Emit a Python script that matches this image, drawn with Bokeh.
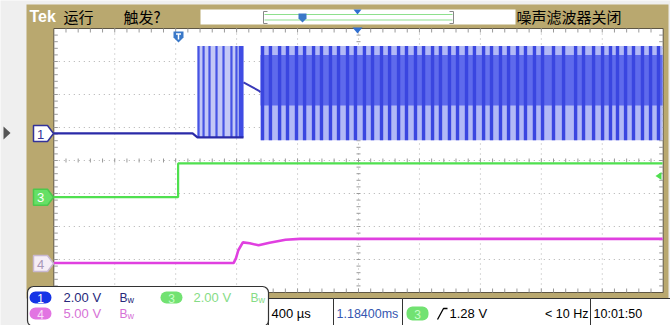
from bokeh.plotting import figure
from bokeh.models import Range1d, Label
from bokeh.embed import file_html
from bokeh.resources import INLINE

# ---------------- scope settings ----------------
time_per_div_ms = 0.4
horiz_position_ms = 1.184
ch1_volts_per_div = 2.0
ch3_volts_per_div = 2.0
ch4_volts_per_div = 5.0
ch1_offset_div = 0.82
ch3_offset_div = -1.11
ch4_offset_div = -3.12
trigger_level_v = 1.28

# ---------------- waveform data: time in ms after trigger, volts ----------------
ch1_base_t = [-0.816, 0.095, 0.127, 0.429]
ch1_base_v = [0.0, 0.0, -0.24, -0.24]
ch1_decay_t = [0.429, 0.528, 0.541]
ch1_decay_v = [3.1, 2.6, 2.5]
burst1_t = [0.127, 0.429]
burst1_dense_t = [0.398, 0.429]
burst1_stripes_t = [0.134, 0.167, 0.206, 0.252, 0.298, 0.350, 0.383]
burst1_floor_v = -0.24
burst2_t = [0.541, 3.180]
burst2_stripes_t = [0.554, 0.606, 0.666, 0.718, 0.777, 0.830, 0.889, 0.941, 1.000,
                    1.053, 1.112, 1.164, 1.223, 1.276, 1.335, 1.388, 1.447, 1.499,
                    1.558, 1.611, 1.670, 1.722, 1.781, 1.834, 1.893, 1.945, 2.005,
                    2.057, 2.116, 2.169, 2.228, 2.280, 2.339, 2.392, 2.464, 2.530,
                    2.609, 2.661, 2.727, 2.786, 2.838, 2.884, 2.937, 2.989, 3.048,
                    3.101, 3.153]
burst_peak_v = [5.3, -0.42]   # envelope top / bottom
burst_core_v = [4.75, 1.7]    # dense part of the envelope

ch3_t = [-0.816, 0.0, 0.0, 3.180]
ch3_v = [0.0, 0.0, 2.04, 2.04]

ch4_t = [-0.816, 0.365, 0.380, 0.395, 0.425, 0.470, 0.528, 0.600, 0.705, 0.800, 3.180]
ch4_v = [0.08, 0.08, 0.8, 2.0, 3.2, 3.05, 2.75, 3.15, 3.6, 3.72, 3.72]

# ---------------- screen layout ----------------
PX_L, PX_R, PY_T, PY_B = 53.3, 662.7, 28.0, 292.0
DX = (PX_R - PX_L) / 10.0
DY = (PY_B - PY_T) / 8.0
t_left = horiz_position_ms - 5 * time_per_div_ms


def X(px):
    return t_left + (px - PX_L) / DX * time_per_div_ms


def Y(py):
    return 4.0 - (py - PY_T) / DY


def GX(div):
    return t_left + div * time_per_div_ms


def to_div(volts, vpd, off):
    return [v / vpd + off for v in volts]


TAN = "#b9a86f"
FONT = "Liberation Sans"
CJK = "Noto Sans CJK SC"

p = figure(width=670, height=325, x_range=Range1d(X(0), X(670)), y_range=Range1d(Y(325), Y(0)),
           output_backend="svg", toolbar_location=None, min_border=0,
           x_axis_location=None, y_axis_location=None,
           background_fill_color="#efefef", border_fill_color="#efefef", outline_line_color=None)
p.xgrid.visible = False
p.ygrid.visible = False


def box(px0, py0, px1, py1, **kw):
    kw.setdefault("line_color", None)
    return p.quad(left=[X(px0)], right=[X(px1)], top=[Y(py0)], bottom=[Y(py1)], **kw)


def label(px, py, text, color="black", size=13, font=FONT, align="left", style="normal"):
    p.add_layout(Label(x=X(px), y=Y(py), text=text, text_color=color, text_font=font,
                       text_font_size=f"{size}px", text_align=align, text_baseline="middle",
                       text_font_style=style))


def patch(pts, **kw):
    p.patch([X(a) for a, b in pts], [Y(b) for a, b in pts], **kw)


# frame
box(26, 4, 668, 298, fill_color=TAN)
box(PX_L, PY_T, PX_R, PY_B, fill_color="white", line_color="#5e5644", line_width=1)

# left side arrow
patch([(3, 126), (10, 132.5), (3, 139)], fill_color="#555555", line_color=None)

# graticule
gx0, gx1, gy0, gy1 = [], [], [], []
for i in range(1, 10):
    gx0.append(GX(i)); gx1.append(GX(i)); gy0.append(Y(PY_T)); gy1.append(Y(PY_B))
for j in range(-3, 4):
    gx0.append(GX(0)); gx1.append(GX(10)); gy0.append(j); gy1.append(j)
p.segment(gx0, gy0, gx1, gy1, line_color="#b0b0b0", line_width=1, line_dash="1 4")

tx0, tx1, ty0, ty1 = [], [], [], []
tk = 4.0
for k in range(1, 50):
    xx = GX(k / 5.0)
    for (a, b) in [(PY_T, PY_T + tk), (PY_B - tk, PY_B), (160 - 2, 160 + 2)]:
        tx0.append(xx); tx1.append(xx); ty0.append(Y(a)); ty1.append(Y(b))
for k in range(1, 40):
    yy = -4 + k / 5.0
    for (a, b) in [(PX_L, PX_L + tk), (PX_R - tk, PX_R), (358 - 2, 358 + 2)]:
        tx0.append(X(a)); tx1.append(X(b)); ty0.append(yy); ty1.append(yy)
p.segment(tx0, ty0, tx1, ty1, line_color="#9a9a9a", line_width=1)

# ---------------- channel 3 (green) ----------------
p.line(ch3_t, to_div(ch3_v, ch3_volts_per_div, ch3_offset_div), line_color="#4fe04f", line_width=2.2)

# ---------------- channel 4 (magenta) ----------------
p.line(ch4_t, to_div(ch4_v, ch4_volts_per_div, ch4_offset_div), line_color="#e040e0", line_width=2.6)

# ---------------- channel 1 (blue) ----------------
c1 = lambda v: to_div(v, ch1_volts_per_div, ch1_offset_div)
top_d, bot_d = c1(burst_peak_v)
core_top_d, core_bot_d = c1(burst_core_v)
floor_d = c1([burst1_floor_v])[0]

# burst 1
p.quad(left=[burst1_t[0]], right=[burst1_t[1]], top=[top_d], bottom=[floor_d],
       fill_color="#c3c8f6", line_color=None)
p.segment(burst1_stripes_t, [floor_d] * len(burst1_stripes_t), burst1_stripes_t,
          [top_d] * len(burst1_stripes_t), line_color="#4653e4", line_width=2.2)
p.quad(left=[burst1_dense_t[0]], right=[burst1_dense_t[1]], top=[top_d], bottom=[floor_d],
       fill_color="#3f4ce4", line_color=None)

# burst 2
p.quad(left=[burst2_t[0]], right=[burst2_t[1]], top=[top_d], bottom=[bot_d],
       fill_color="#b2b9f6", line_color=None)
p.quad(left=[burst2_t[0]], right=[burst2_t[1]], top=[core_top_d], bottom=[core_bot_d],
       fill_color="#5e6aec", line_color=None)
p.segment(burst2_stripes_t, [bot_d] * len(burst2_stripes_t), burst2_stripes_t,
          [top_d] * len(burst2_stripes_t), line_color="#3a46e0", line_width=3.4)

p.line(ch1_base_t, c1(ch1_base_v), line_color="#2a2aa8", line_width=2.2)
p.line(ch1_decay_t, c1(ch1_decay_v), line_color="#3a3ab8", line_width=2)

# ---------------- channel markers ----------------
def ch_marker(pyc, fill, border, text, tcol):
    patch([(33, pyc - 8), (47, pyc - 8), (53, pyc), (47, pyc + 8), (33, pyc + 8)],
          fill_color=fill, line_color=border, line_width=1.5)
    label(40, pyc + 0.5, text, color=tcol, size=13, align="center")


ch_marker(133, "white", "#33339a", "1", "#33339a")
ch_marker(196.7, "#66e066", "#4cc84c", "3", "white")
ch_marker(263, "#f6eef6", "#c8b8d0", "4", "#a898b8")

# trigger level arrow (right)
trig_py = 196.7 - trigger_level_v / ch3_volts_per_div * DY
patch([(655, trig_py), (661, trig_py - 4), (661, trig_py + 4)], fill_color="#4fe04f", line_color=None)

# trigger position marker (top) and center marker
patch([(173, 31), (183, 31), (183, 37), (178, 42), (173, 37)], fill_color="#3a78c8", line_color=None)
p.segment([X(175.5), X(178)], [Y(33.5), Y(33.5)], [X(180.5), X(178)], [Y(33.5), Y(39)],
          line_color="white", line_width=1.5)
patch([(352, 27), (362, 27), (357, 33)], fill_color="#2f6fd0", line_color=None)

# ---------------- top bar ----------------
label(29, 16, "Tek", color="white", size=16, style="bold")
label(63, 16, "运行", size=15, font=CJK)
label(123, 16, "触发?", size=15, font=CJK)
label(516, 16, "噪声滤波器关闭", size=15, font=CJK)

box(200, 9, 515, 24, fill_color="white")
p.multi_line([[X(267), X(263), X(263), X(267)], [X(449), X(453), X(453), X(449)]],
             [[Y(11), Y(11), Y(23), Y(23)], [Y(11), Y(11), Y(23), Y(23)]],
             line_color="#888888", line_width=1)
p.segment([X(264), X(264)], [Y(14), Y(19.5)], [X(452), X(452)], [Y(14), Y(19.5)],
          line_color="#8ee08e", line_width=1.2)
patch([(298, 13), (306, 13), (306, 18), (302, 22), (298, 18)], fill_color="#3a78c8", line_color=None)
patch([(353, 9), (361, 9), (357, 14)], fill_color="#2f6fd0", line_color=None)

# ---------------- bottom status bar ----------------
box(268, 298, 333, 325, fill_color="white", line_color="#333333", line_width=1)
box(333, 298, 402, 325, fill_color="white", line_color="#333333", line_width=1)
box(402, 298, 590, 325, fill_color="white", line_color="#333333", line_width=1)
box(590, 298, 672, 325, fill_color="white", line_color="#333333", line_width=1)
box(27, 286, 268, 326, fill_color="white", line_color="#333333", line_width=1.2, border_radius=6)


def pill(px0, py0, px1, py1, fill, text, tcol="white"):
    box(px0, py0, px1, py1, fill_color=fill, border_radius=6)
    label((px0 + px1) / 2, (py0 + py1) / 2 + 0.5, text, color=tcol, size=12, align="center")


def bw(px, py, color):
    label(px, py, "B", color=color, size=12)
    label(px + 8, py + 2, "w", color=color, size=9)


pill(29, 291, 51, 303, "#1534e6", "1")
label(63, 297, "2.00 V", color="#26287a", size=13)
bw(119, 297, "#26287a")
pill(160, 291, 182, 303, "#72e272", "3", "#c8ffc8")
label(193, 297, "2.00 V", color="#86dc86", size=13)
bw(250, 297, "#86dc86")
pill(29, 307, 51, 319, "#e274e2", "4", "#f8e0f8")
label(63, 313, "5.00 V", color="#d672d6", size=13)
bw(119, 313, "#d672d6")

label(271, 313, "400 µs", size=13)
label(336, 313, "1.18400ms", color="#3556b0", size=12.5)
pill(406, 306, 428, 320, "#72e272", "3", "#c8ffc8")
p.line([X(437), X(443), X(447)], [Y(319), Y(308), Y(308)], line_color="black", line_width=1.3)
label(449, 313, "1.28 V", size=13)
label(588, 313, "< 10 Hz", size=12.5, align="right")
label(593, 313, "10:01:50", size=12.5)

open("out.html", "w").write(file_html(p, INLINE))
